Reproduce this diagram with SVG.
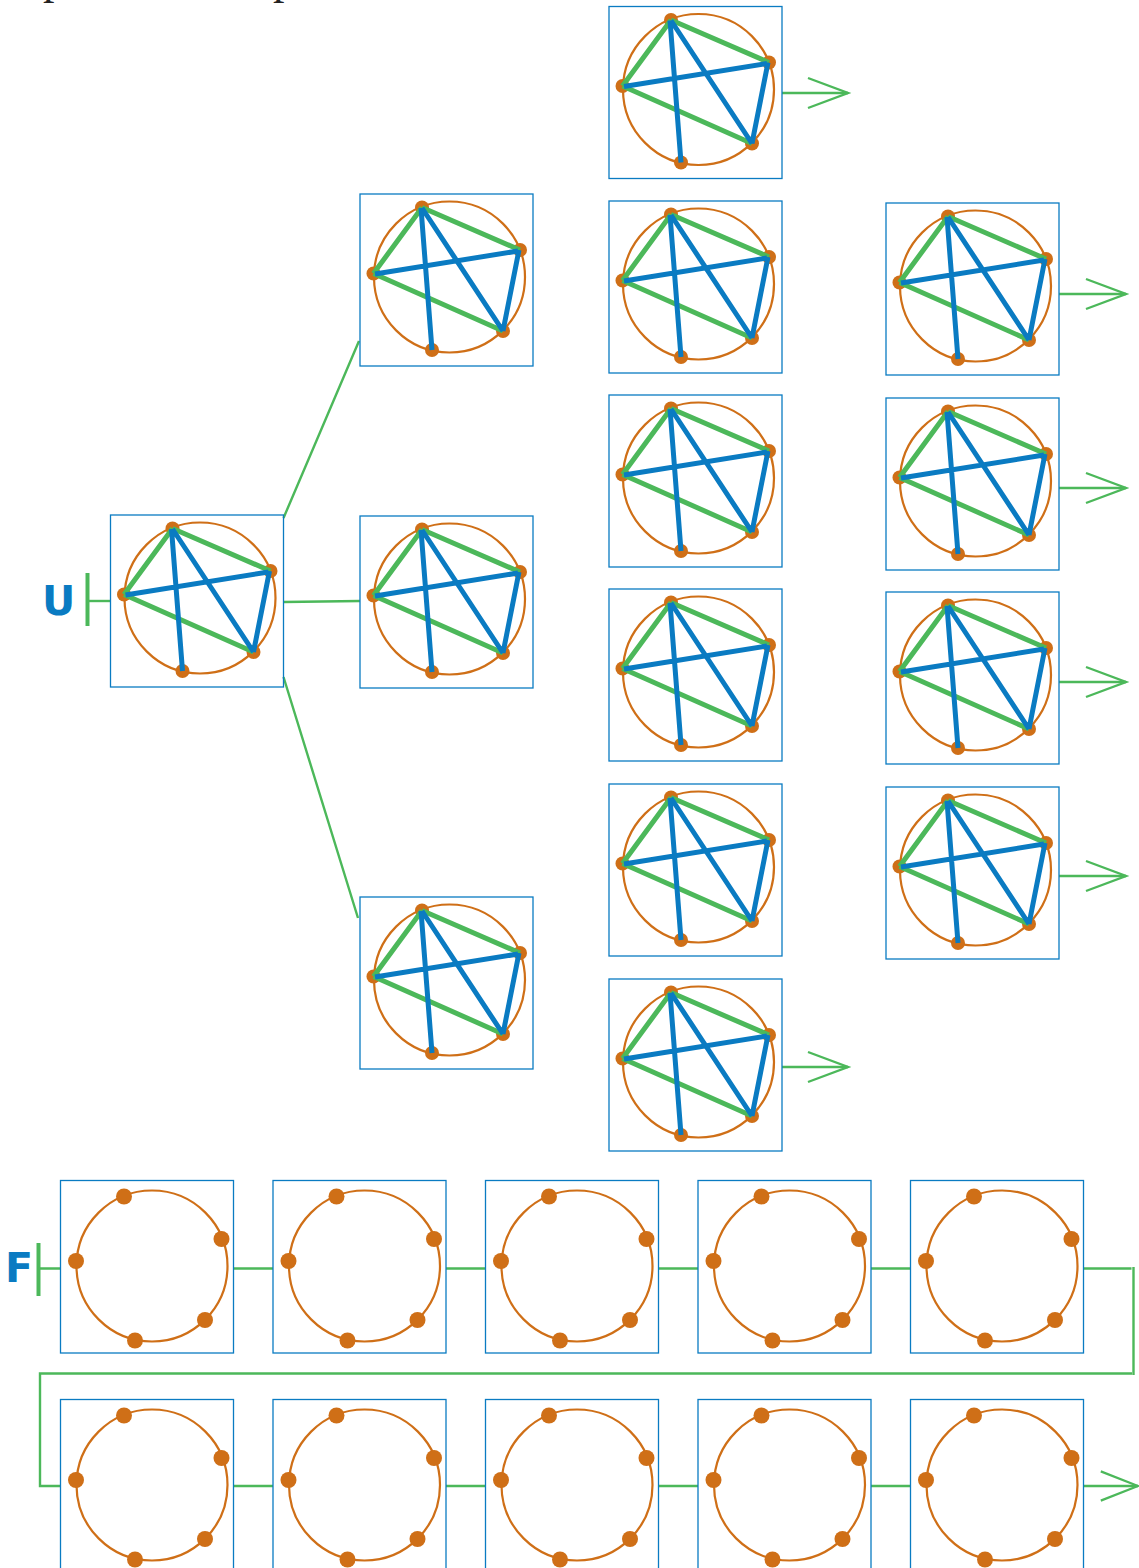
<svg xmlns="http://www.w3.org/2000/svg" xmlns:xlink="http://www.w3.org/1999/xlink" width="1139" height="1568" viewBox="0 0 1139 1568">
<style>
.box{fill:none;stroke:#0a7bc2;stroke-width:1.3}
.ring{fill:none;stroke:#cf6f17;stroke-width:2.2}
.dot{fill:#cf6f17}
.ge{stroke:#4cb85a;stroke-width:5;fill:none}
.be{stroke:#0a7bc2;stroke-width:5;fill:none}
.con{stroke:#4cb85a;stroke-width:2.4;fill:none}
.tee{stroke:#4cb85a;stroke-width:4;fill:none}
.lbl{font-family:"DejaVu Sans",sans-serif;font-weight:bold;font-size:41px;fill:#0a7bc2}
.frag{font-family:"Liberation Serif",serif;font-size:46px;fill:#222}
</style>
<defs>
<g id="gt">
<rect class="box" x="0" y="0" width="173" height="172"/>
<circle class="ring" cx="89.5" cy="83" r="75.5"/>
<circle class="dot" cx="62" cy="13.5" r="7"/>
<circle class="dot" cx="160" cy="56" r="7"/>
<circle class="dot" cx="13.5" cy="79.5" r="7"/>
<circle class="dot" cx="143" cy="137" r="7"/>
<circle class="dot" cx="72" cy="156" r="7"/>
<path class="ge" d="M62 13.5L13.5 79.5M62 13.5L160 56M13.5 79.5L143 137"/>
<path class="be" d="M61 14L72 156M62 14L143 137M15 80L158 57M159 56L143 137"/>
</g>
<g id="ft">
<rect class="box" x="0" y="0" width="173" height="172.5"/>
<circle class="ring" cx="91.5" cy="85.5" r="75.5"/>
<circle class="dot" cx="63.5" cy="16" r="8"/>
<circle class="dot" cx="161" cy="58.5" r="8"/>
<circle class="dot" cx="15.5" cy="80.5" r="8"/>
<circle class="dot" cx="144.5" cy="139.5" r="8"/>
<circle class="dot" cx="74.5" cy="160" r="8"/>
</g>
<path id="ah" class="con" d="M-40 -15L0 0L-40 15"/>
</defs>
<text class="frag" x="43" y="-7">p</text>
<text class="frag" x="273" y="-7">p</text>
<g id="connectors">
<path class="tee" d="M87.5 573V626"/>
<path class="con" d="M87.5 601H110.5"/>
<path class="con" d="M283.5 518L359 341M283.5 602L360 601M283.5 677L358 918"/>
<path class="con" d="M782 93H848"/>
<use xlink:href="#ah" href="#ah" transform="translate(848,93)"/>
<path class="con" d="M782 1067H848"/>
<use xlink:href="#ah" href="#ah" transform="translate(848,1067)"/>
<path class="con" d="M1059 294H1126M1059 488H1126M1059 682H1126M1059 876H1126"/>
<use xlink:href="#ah" href="#ah" transform="translate(1126,294)"/>
<use xlink:href="#ah" href="#ah" transform="translate(1126,488)"/>
<use xlink:href="#ah" href="#ah" transform="translate(1126,682)"/>
<use xlink:href="#ah" href="#ah" transform="translate(1126,876)"/>
<path class="tee" d="M38.5 1243V1296"/>
<path class="con" d="M38.5 1268.5H60.5M233.5 1268.5H273M446 1268.5H485.5M658.5 1268.5H698M871 1268.5H910.5M1083.5 1268.5H1131.5"/>
<path class="con" d="M1133.5 1267V1375M1132 1373.5H40V1486H60.5"/>
<path class="con" d="M233.5 1486H273M446 1486H485.5M658.5 1486H698M871 1486H910.5M1083.5 1486H1138"/>
<use xlink:href="#ah" href="#ah" transform="translate(1138,1486) scale(0.93,0.97)"/>
</g>
<text class="lbl" x="42" y="615">U</text>
<text class="lbl" x="5" y="1282">F</text>
<g id="root" transform="translate(110.5,515)"><use xlink:href="#gt" href="#gt"/></g>
<g id="c2a" transform="translate(360,194)"><use xlink:href="#gt" href="#gt"/></g>
<g id="c2b" transform="translate(360,516)"><use xlink:href="#gt" href="#gt"/></g>
<g id="c2c" transform="translate(360,897)"><use xlink:href="#gt" href="#gt"/></g>
<g id="c3a" transform="translate(609,6.5)"><use xlink:href="#gt" href="#gt"/></g>
<g id="c3b" transform="translate(609,201)"><use xlink:href="#gt" href="#gt"/></g>
<g id="c3c" transform="translate(609,395)"><use xlink:href="#gt" href="#gt"/></g>
<g id="c3d" transform="translate(609,589)"><use xlink:href="#gt" href="#gt"/></g>
<g id="c3e" transform="translate(609,784)"><use xlink:href="#gt" href="#gt"/></g>
<g id="c3f" transform="translate(609,979)"><use xlink:href="#gt" href="#gt"/></g>
<g id="c4a" transform="translate(886,203)"><use xlink:href="#gt" href="#gt"/></g>
<g id="c4b" transform="translate(886,398)"><use xlink:href="#gt" href="#gt"/></g>
<g id="c4c" transform="translate(886,592)"><use xlink:href="#gt" href="#gt"/></g>
<g id="c4d" transform="translate(886,787)"><use xlink:href="#gt" href="#gt"/></g>
<g id="f1" transform="translate(60.5,1180.5)"><use xlink:href="#ft" href="#ft"/></g>
<g id="f2" transform="translate(273,1180.5)"><use xlink:href="#ft" href="#ft"/></g>
<g id="f3" transform="translate(485.5,1180.5)"><use xlink:href="#ft" href="#ft"/></g>
<g id="f4" transform="translate(698,1180.5)"><use xlink:href="#ft" href="#ft"/></g>
<g id="f5" transform="translate(910.5,1180.5)"><use xlink:href="#ft" href="#ft"/></g>
<g id="f6" transform="translate(60.5,1399.5)"><use xlink:href="#ft" href="#ft"/></g>
<g id="f7" transform="translate(273,1399.5)"><use xlink:href="#ft" href="#ft"/></g>
<g id="f8" transform="translate(485.5,1399.5)"><use xlink:href="#ft" href="#ft"/></g>
<g id="f9" transform="translate(698,1399.5)"><use xlink:href="#ft" href="#ft"/></g>
<g id="f10" transform="translate(910.5,1399.5)"><use xlink:href="#ft" href="#ft"/></g>
</svg>
